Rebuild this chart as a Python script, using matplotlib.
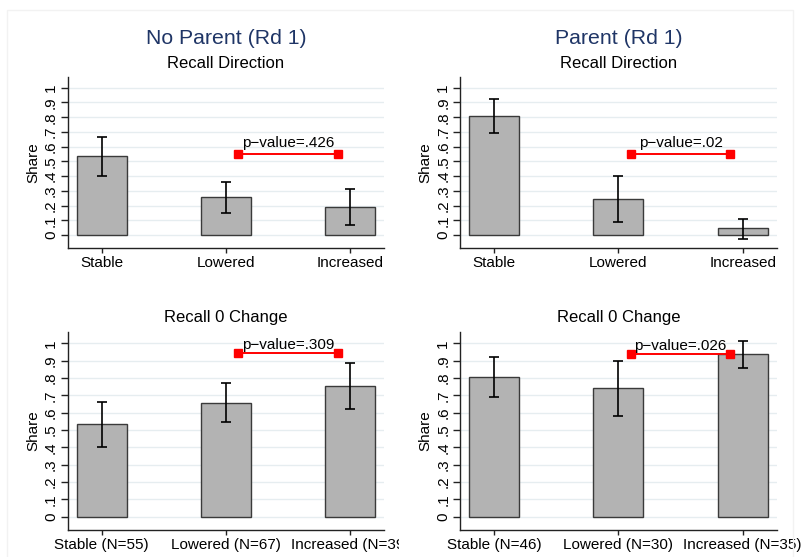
import matplotlib
matplotlib.use("Agg")
import matplotlib.pyplot as plt
from matplotlib.patches import Rectangle
from matplotlib.transforms import Bbox, TransformedBbox
import numpy as np

plt.rcParams['font.family'] = ['Liberation Sans', 'DejaVu Sans']

# ---------------- data ----------------
groups = ["No Parent (Rd 1)", "Parent (Rd 1)"]
subtitles = ["Recall Direction", "Recall 0 Change"]
categories = ["Stable", "Lowered", "Increased"]
n_noparent = [55, 67, 39]
n_parent = [46, 30, 35]

# Recall Direction
dir_np_mean = [0.534, 0.256, 0.188]
dir_np_lo = [0.403, 0.152, 0.066]
dir_np_hi = [0.663, 0.362, 0.310]
dir_p_mean = [0.805, 0.242, 0.045]
dir_p_lo = [0.692, 0.088, -0.027]
dir_p_hi = [0.921, 0.398, 0.111]

# Recall 0 Change
zero_np_mean = [0.533, 0.658, 0.752]
zero_np_lo = [0.404, 0.544, 0.619]
zero_np_hi = [0.663, 0.771, 0.888]
zero_p_mean = [0.808, 0.740, 0.938]
zero_p_lo = [0.692, 0.581, 0.860]
zero_p_hi = [0.921, 0.898, 1.015]

# p-value comparisons (Lowered vs Increased)
pval_labels = [[".426", ".02"], [".309", ".026"]]
pval_line_y = [[0.548, 0.548], [0.942, 0.938]]

yticks = [0, .1, .2, .3, .4, .5, .6, .7, .8, .9, 1]
ytick_labels = ["0", ".1", ".2", ".3", ".4", ".5", ".6", ".7", ".8", ".9", "1"]

# ---------------- figure ----------------
W, H = 801, 557
fig = plt.figure(figsize=(W / 100, H / 100), dpi=100)
fig.patch.set_facecolor("white")

fig.patches.append(Rectangle((6.7 / W, -0.01), (793.3 - 6.7) / W, 1 - 10 / H + 0.01,
                             transform=fig.transFigure, fill=False,
                             edgecolor="#f2f2f2", lw=1, zorder=0))

def px_rect(x0, y0, x1, y1):
    return [x0 / W, 1 - y1 / H, (x1 - x0) / W, (y1 - y0) / H]

col_x = [(67.7, 384.0), (460.0, 776.7)]
row_y = [(76.7, 248.3), (331.7, 530.0)]
row_ylim = [(-0.09, 1.075), (-0.077, 1.067)]
row_txt_off = [5.5, 3.0]

panel_data = [
    [(dir_np_mean, dir_np_lo, dir_np_hi), (dir_p_mean, dir_p_lo, dir_p_hi)],
    [(zero_np_mean, zero_np_lo, zero_np_hi), (zero_p_mean, zero_p_lo, zero_p_hi)],
]
ns = [n_noparent, n_parent]

x = np.arange(len(categories))
grid_col = "#e6edf0"

for r in range(2):
    for c in range(2):
        ax = fig.add_axes(px_rect(col_x[c][0], row_y[r][0], col_x[c][1], row_y[r][1]))
        mean, lo, hi = [np.array(v) for v in panel_data[r][c]]
        ax.set_xlim(-0.274, 2.274)
        ax.set_ylim(*row_ylim[r])
        for yv in yticks:
            ax.axhline(yv, color=grid_col, lw=1, zorder=0)
        ax.bar(x, mean, width=0.403, color="#b3b3b3", edgecolor="#3a3a3a",
               linewidth=1, zorder=2)
        ax.errorbar(x, mean, yerr=[mean - lo, hi - mean], fmt="none",
                    ecolor="black", elinewidth=1.2, capsize=3.5, capthick=1.2,
                    zorder=3)
        ly = pval_line_y[r][c]
        ax.plot([1.1, 1.9], [ly, ly], color="#ff0000", lw=1.4, marker="s",
                markersize=5.2, zorder=4)
        ax.annotate("p\u2212value=" + pval_labels[r][c], xy=(1.5, ly),
                    xytext=(0, row_txt_off[r]), textcoords="offset points",
                    ha="center", va="baseline", fontsize=11, zorder=5)

        ax.set_yticks(yticks)
        ax.set_yticklabels(ytick_labels, rotation=90, va="center")
        ax.set_xticks(x)
        if r == 0:
            labs = categories
        else:
            labs = [f"{cat} (N={n})" for cat, n in zip(categories, ns[c])]
        ax.set_xticklabels(labs)
        ax.tick_params(axis="y", length=5, width=1, labelsize=11, pad=2,
                       color="#222222")
        ax.tick_params(axis="x", length=3.6, width=1, labelsize=11, pad=2,
                       color="#222222")
        for s in ["top", "right"]:
            ax.spines[s].set_visible(False)
        for s in ["left", "bottom"]:
            ax.spines[s].set_color("#222222")
            ax.spines[s].set_linewidth(1)
        ax.set_ylabel("Share", fontsize=11)
        ax.yaxis.set_label_coords(-0.086, 0.5)
        ax.set_facecolor("white")

        if r == 1 and c == 0:
            clip = TransformedBbox(Bbox([[0, 0], [399 / W, 1]]), fig.transFigure)
            for t in ax.get_xticklabels():
                t.set_clip_on(True)
                t.set_clip_box(clip)

        cx = (col_x[c][0] + col_x[c][1]) / 2
        if r == 0:
            fig.text(cx / W, 1 - 38 / H, groups[c], ha="center", va="center",
                     fontsize=15.3, color="#1f3566")
            fig.text(cx / W, 1 - 63 / H, subtitles[0], ha="center", va="center",
                     fontsize=12, color="black")
        else:
            fig.text(cx / W, 1 - 317.5 / H, subtitles[1], ha="center", va="center",
                     fontsize=12, color="black")

fig.savefig("out.png", dpi=100)
